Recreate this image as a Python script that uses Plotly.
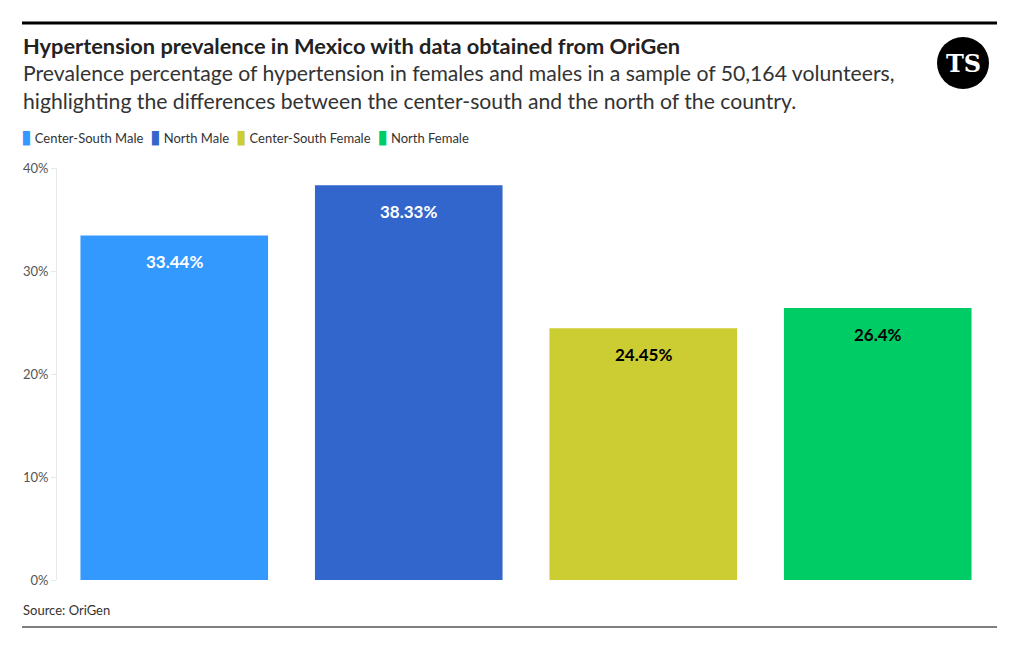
import plotly.graph_objects as go

categories = ["Center-South Male", "North Male", "Center-South Female", "North Female"]
values = [33.44, 38.33, 24.45, 26.4]
labels = ["33.44%", "38.33%", "24.45%", "26.4%"]
colors = ["#3399FF", "#3366CC", "#CCCC33", "#00CC66"]
label_colors = ["white", "white", "black", "black"]
tick_vals = [0, 10, 20, 30, 40]
tick_text = ["0%", "10%", "20%", "30%", "40%"]

FONT = "Lato"
W, H = 1020, 650
L, R, T, B = 57, 25, 168, 70
PW, PH = W - L - R, H - T - B


def px(x):
    return (x - L) / PW


def py(y):
    return (H - B - y) / PH


fig = go.Figure()
for c, v, col in zip(categories, values, colors):
    fig.add_trace(go.Bar(x=[c], y=[v], name=c, marker=dict(color=col, line=dict(width=0)),
                         width=0.8, hoverinfo="skip", showlegend=False))

for c, v, lab, lc in zip(categories, values, labels, label_colors):
    fig.add_annotation(x=c, y=v, text="<b>" + lab + "</b>", showarrow=False,
                       yshift=-26, font=dict(family=FONT, size=17, color=lc))

fig.update_layout(
    width=W, height=H,
    paper_bgcolor="white", plot_bgcolor="white",
    margin=dict(l=L, r=R, t=T, b=B),
    barmode="overlay",
    font=dict(family=FONT, color="#333333"),
    showlegend=False,
    xaxis=dict(visible=False, range=[-0.5, 3.5], categoryorder="array", categoryarray=categories),
    yaxis=dict(range=[0, 40], tickvals=tick_vals, ticktext=tick_text, showgrid=False,
               showline=True, linecolor="#e8e8e8", linewidth=1, ticks="outside",
               ticklen=5, tickcolor="#e8e8e8", zeroline=False,
               tickfont=dict(size=13, color="#555555")),
)

# Compact legend built from the series names and colours
legend_parts = []
for c, col in zip(categories, colors):
    legend_parts.append('<span style="color:%s;font-family:DejaVu Sans;font-size:19px">▮</span> %s' % (col, c))
fig.add_annotation(text="  ".join(legend_parts), xref="paper", yref="paper",
                   x=px(19), y=py(135.5), xanchor="left", yanchor="middle", showarrow=False,
                   font=dict(family=FONT, size=13, color="#333333"))

fig.add_annotation(text="<b>Hypertension prevalence in Mexico with data obtained from OriGen</b>",
                   xref="paper", yref="paper", x=px(21), y=py(46),
                   xanchor="left", yanchor="middle", showarrow=False,
                   font=dict(family=FONT, size=21.8, color="#222222"))
fig.add_annotation(text="Prevalence percentage of hypertension in females and males in a sample of 50,164 volunteers,<br>highlighting the differences between the center-south and the north of the country.",
                   xref="paper", yref="paper", x=px(21), y=py(87.5),
                   xanchor="left", yanchor="middle", showarrow=False, align="left",
                   font=dict(family=FONT, size=21.2, color="#333333"))
fig.add_annotation(text="Source: OriGen", xref="paper", yref="paper",
                   x=px(21), y=py(610), xanchor="left", yanchor="middle", showarrow=False,
                   font=dict(family=FONT, size=13, color="#333333"))

fig.add_shape(type="line", xref="paper", yref="paper",
              x0=px(22), x1=px(997), y0=py(23), y1=py(23),
              line=dict(color="black", width=3))
fig.add_shape(type="line", xref="paper", yref="paper",
              x0=px(22), x1=px(997), y0=py(627), y1=py(627),
              line=dict(color="black", width=1))

cx, cy, r = 963, 63, 26
fig.add_shape(type="circle", xref="paper", yref="paper", layer="below",
              x0=px(cx - r), x1=px(cx + r), y0=py(cy + r), y1=py(cy - r),
              fillcolor="black", line=dict(color="black", width=0))
fig.add_annotation(text="<b>TS</b>", xref="paper", yref="paper",
                   x=px(cx), y=py(cy), xanchor="center", yanchor="middle", showarrow=False,
                   font=dict(family="DejaVu Serif", size=24, color="white"))

fig.write_html("out.html")
